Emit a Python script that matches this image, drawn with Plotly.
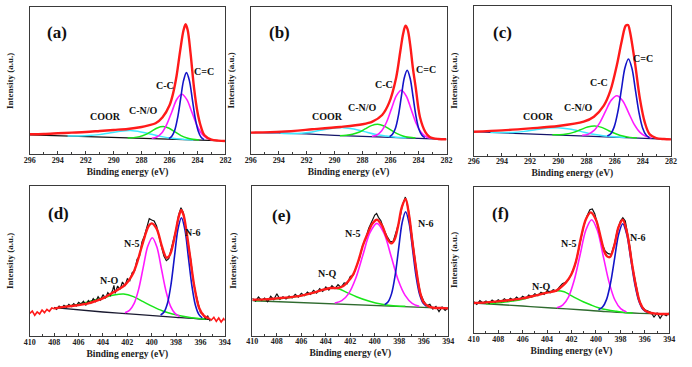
import plotly.graph_objects as go

FONT = "Liberation Serif"

# ---------------- tick values ----------------
c1s_ticks = [296, 294, 292, 290, 288, 286, 284, 282]
c1s_minor = [295, 293, 291, 289, 287, 285, 283]
n1s_ticks = [410, 408, 406, 404, 402, 400, 398, 396, 394]
n1s_minor = [409, 407, 405, 403, 401, 399, 397, 395]

# ---------------- panel (a)  C 1s ----------------
a_base_E = [296, 282]
a_base_I = [58, 40]
a_coor_E = [284.3, 285.05, 285.8, 286.55, 287.3, 288.05, 288.8, 289.55, 290.3, 291.05, 291.8, 292.55, 293.3]
a_coor_I = [43, 45, 48, 53, 60, 67, 71, 69, 64, 59, 56, 55, 55]
a_cno_E = [283.9, 284.33, 284.75, 285.18, 285.6, 286.03, 286.45, 286.88, 287.3, 287.73, 288.15, 288.58, 289.0]
a_cno_I = [43, 45, 49, 56, 67, 78, 83, 79, 69, 59, 53, 50, 49]
a_cc_E = [282.96, 283.32, 283.68, 284.04, 284.4, 284.76, 285.12, 285.48, 285.84, 286.2, 286.56, 286.92, 287.28]
a_cc_I = [43, 48, 61, 87, 126, 164, 180, 165, 127, 90, 64, 52, 48]
a_c2_E = [283.53, 283.74, 283.95, 284.16, 284.37, 284.58, 284.79, 285.0, 285.21, 285.42, 285.63, 285.84, 286.05]
a_c2_I = [44, 51, 70, 108, 165, 221, 245, 221, 166, 110, 72, 54, 47]
a_fit_E = [296, 295, 294, 293, 292, 291, 290, 289, 288, 287.5, 287, 286.5, 286, 285.75, 285.5,
           285.25, 285, 284.85, 284.7, 284.5, 284.25, 284, 283.75, 283.5, 283, 282.5, 282]
a_fit_I = [60, 61, 63, 65, 67, 70, 73, 76, 82, 87, 93, 111, 147, 182, 235,
           308, 372, 390, 372, 304, 200, 126, 82, 57, 44, 41, 40]

# ---------------- panel (b)  C 1s ----------------
b_base_E = [296, 294, 292, 290, 288, 286, 284, 282]
b_base_I = [65, 64, 61, 57, 54, 51, 48, 45]
b_coor_E = [284.87, 285.62, 286.37, 287.12, 287.87, 288.62, 289.37, 290.12, 290.87, 291.62, 292.37, 293.12, 293.87]
b_coor_I = [50, 51, 55, 60, 68, 76, 80, 78, 73, 67, 63, 62, 63]
b_cno_E = [284.22, 284.67, 285.12, 285.57, 286.02, 286.47, 286.92, 287.37, 287.82, 288.27, 288.72, 289.17, 289.62]
b_cno_I = [49, 51, 55, 63, 74, 85, 90, 86, 76, 66, 60, 57, 56]
b_cc_E = [283.13, 283.48, 283.83, 284.18, 284.53, 284.88, 285.23, 285.58, 285.93, 286.28, 286.63, 286.98, 287.33]
b_cc_I = [48, 53, 67, 94, 135, 175, 192, 176, 137, 97, 71, 58, 54]
b_c2_E = [283.55, 283.76, 283.97, 284.18, 284.39, 284.6, 284.81, 285.02, 285.23, 285.44, 285.65, 285.86, 286.07]
b_c2_I = [50, 57, 75, 114, 172, 228, 252, 229, 173, 116, 78, 60, 53]
b_fit_E = [296, 293.8, 291.6, 289.6, 288, 287.3, 286.6, 286.1, 285.6, 285.3, 285.1, 284.93, 284.78,
           284.6, 284.4, 284.2, 283.9, 283.5, 283.2, 282.6, 282]
b_fit_I = [65, 68, 75, 82, 90, 98, 118, 155, 230, 310, 362, 386, 375,
           330, 258, 200, 112, 66, 52, 46, 45]

# ---------------- panel (c)  C 1s ----------------
c_base_E = [296, 282]
c_base_I = [72, 49]
c_coor_E = [285.22, 286.02, 286.82, 287.62, 288.42, 289.22, 290.02, 290.82, 291.62, 292.42, 293.22, 294.02, 294.82]
c_coor_I = [55, 57, 60, 65, 73, 80, 84, 83, 78, 73, 70, 70, 70]
c_cno_E = [284.42, 284.92, 285.42, 285.92, 286.42, 286.92, 287.42, 287.92, 288.42, 288.92, 289.42, 289.92, 290.42]
c_cno_I = [53, 55, 59, 66, 75, 85, 89, 86, 78, 70, 65, 63, 63]
c_cc_E = [283.38, 283.79, 284.2, 284.61, 285.02, 285.43, 285.84, 286.25, 286.66, 287.07, 287.48, 287.89, 288.3]
c_cc_I = [53, 58, 70, 94, 130, 165, 180, 166, 132, 98, 75, 64, 61]
c_c2_E = [283.52, 283.77, 284.02, 284.27, 284.52, 284.77, 285.02, 285.27, 285.52, 285.77, 286.02, 286.27, 286.52]
c_c2_I = [54, 62, 84, 129, 196, 262, 290, 263, 198, 132, 88, 66, 59]
c_fit_E = [296, 294, 292, 290, 288.2, 287.47, 286.77, 286.3, 285.84, 285.49, 285.21, 285.05, 284.91,
           284.56, 284.21, 283.86, 283.51, 283.05, 282.5, 282]
c_fit_I = [72, 76, 82, 89, 102, 117, 150, 195, 272, 345, 390, 392, 372,
           280, 172, 100, 64, 53, 50, 49]

# ---------------- panel (d)  N 1s ----------------
d_base_E = [408, 404, 401, 398, 396, 395.3]
d_base_I = [85, 72, 64, 56, 51, 50]
d_nq_E = [407.5, 406.5, 405.5, 404.7, 403.9, 403.1, 402.3, 401.5, 400.7, 399.9, 399.1, 398.3, 397.2, 396.3, 395.5]
d_nq_I = [85, 92, 100, 108, 115, 123, 126, 118, 103, 88, 75, 66, 58, 53, 50]
d_n5_E = [397.7, 398.075, 398.45, 398.825, 399.2, 399.575, 399.95, 400.325, 400.7, 401.075, 401.45, 401.825, 402.2]
d_n5_I = [58, 67, 89, 134, 201, 267, 295, 269, 205, 140, 97, 77, 70]
d_n6_E = [395.85, 396.135, 396.42, 396.705, 396.99, 397.275, 397.56, 397.845, 398.13, 398.415, 398.7, 398.985, 399.27]
d_n6_I = [54, 65, 93, 151, 236, 319, 355, 321, 239, 155, 99, 72, 63]
d_fitL_E = [410.0, 409.8, 409.6, 409.4, 409.2, 409.0, 408.8, 408.6, 408.4, 408.2, 408.0]
d_fitL_I = [68, 75, 62, 72, 66, 78, 70, 80, 74, 84, 82]
d_fit_E = [408.0, 407.5, 406.6, 405.2, 404.5, 403.9, 403.1, 402.3, 401.9, 401.5, 401.2, 400.96, 400.56,
           400.25, 400.0, 399.6, 399.19, 398.95, 398.79, 398.6, 398.39, 398.04, 397.8, 397.58, 397.38,
           397.18, 396.85, 396.5, 396.1, 395.7, 395.3]
d_fit_I = [82, 86, 90, 98, 106, 115, 132, 150, 166, 190, 220, 250, 300,
           330, 338, 322, 272, 245, 235, 238, 255, 312, 355, 378, 362,
           322, 238, 148, 83, 60, 53]
d_fitR_E = [395.3, 395.1, 394.9, 394.7, 394.5, 394.3, 394.1, 394.0]
d_fitR_I = [53, 48, 56, 44, 54, 42, 52, 47]
d_raw_E = [408.0, 407.8, 407.6, 407.4, 407.2, 407.0, 406.8, 406.6, 406.4, 406.2, 406.0, 405.8, 405.6,
           405.4, 405.2, 405.0, 404.8, 404.6, 404.4, 404.2, 404.0, 403.8, 403.6, 403.4, 403.2, 403.1,
           403.0, 402.8, 402.6, 402.4, 402.2, 402.0, 401.8, 401.6, 401.4, 401.2, 401.0, 400.8, 400.6,
           400.4, 400.2, 400.0, 399.8, 399.6, 399.4, 399.2, 399.0, 398.8, 398.6, 398.4, 398.2, 398.0,
           397.8, 397.6, 397.4, 397.2, 397.0, 396.8, 396.6, 396.4, 396.2, 396.0, 395.8, 395.6, 395.4, 395.2]
d_raw_I = [86, 80, 90, 84, 92, 86, 95, 88, 97, 90, 101, 96, 104,
           92, 106, 98, 112, 103, 118, 108, 124, 113, 130, 121, 138, 152,
           128, 150, 140, 162, 150, 172, 166, 190, 196, 230, 240, 282, 300,
           330, 352, 348, 345, 330, 296, 268, 240, 226, 232, 262, 290, 320,
           362, 385, 370, 328, 276, 230, 168, 130, 96, 70, 66, 52, 60, 44]

# ---------------- panel (e)  N 1s ----------------
e_base_E = [410, 394]
e_base_I = [105, 82]
e_nq_E = [409.8, 409, 408, 407, 406.3, 405, 404.2, 403.5, 402.9, 402.3, 401.5, 400.5, 399.4, 398.3, 397.5]
e_nq_I = [105, 108, 111, 114, 118, 129, 138, 143, 140, 130, 117, 104, 94, 89, 88]
e_n5_E = [396.37, 396.945, 397.52, 398.095, 398.67, 399.245, 399.82, 400.395, 400.97, 401.545, 402.12, 402.695, 403.27]
e_n5_I = [88, 97, 121, 168, 239, 308, 337, 309, 242, 173, 127, 105, 98]
e_n6_E = [395.77, 396.055, 396.34, 396.625, 396.91, 397.195, 397.48, 397.765, 398.05, 398.335, 398.62, 398.905, 399.19]
e_n6_I = [88, 98, 124, 178, 259, 338, 372, 339, 261, 181, 127, 102, 93]
e_fit_E = [410, 409, 408, 407, 406, 405, 404.2, 403.6, 403.0, 402.57, 402.2, 401.76, 401.36, 400.96,
           400.6, 400.2, 399.82, 399.4, 399.0, 398.68, 398.4, 398.1, 397.8, 397.48, 397.2, 396.9,
           396.6, 396.3, 396.0, 395.6, 395.2, 394.6, 394]
e_fit_I = [108, 109, 112, 115, 120, 129, 138, 143, 143, 149, 162, 184, 222, 272,
           305, 336, 348, 330, 293, 277, 287, 328, 384, 410, 362, 275,
           195, 130, 100, 88, 84, 83, 82]
e_raw_E = [410.0, 409.75, 409.5, 409.25, 409.0, 408.75, 408.5, 408.25, 408.0, 407.75, 407.5, 407.25,
           407.0, 406.75, 406.5, 406.25, 406.0, 405.75, 405.5, 405.25, 405.0, 404.75, 404.5, 404.25,
           404.0, 403.75, 403.5, 403.25, 403.0, 402.75, 402.5, 402.25, 402.0, 401.75, 401.5, 401.25,
           401.0, 400.75, 400.5, 400.25, 400.0, 399.85, 399.7, 399.5, 399.25, 399.0, 398.75, 398.5,
           398.25, 398.0, 397.75, 397.5, 397.25, 397.0, 396.75, 396.5, 396.25, 396.0, 395.75, 395.5,
           395.25, 395.0, 394.75, 394.5, 394.25, 394.0]
e_raw_I = [112, 104, 116, 106, 113, 102, 118, 108, 126, 109, 117, 110,
           119, 113, 124, 116, 127, 120, 131, 124, 136, 128, 141, 133,
           146, 137, 150, 141, 153, 145, 158, 156, 178, 182, 208, 232,
           270, 290, 322, 340, 362, 367, 355, 345, 318, 298, 283, 282,
           312, 342, 390, 416, 378, 305, 235, 172, 124, 104, 90, 94,
           80, 88, 72, 86, 76, 84]

# ---------------- panel (f)  N 1s ----------------
f_base_E = [410, 406, 403.6, 401, 399.2, 397, 395.5, 394]
f_base_I = [90, 81, 75, 69, 64, 60, 58, 57]
f_nq_E = [409, 408, 407, 406, 405, 404, 403.2, 402.6, 402.2, 401.6, 401, 400.4, 399.8, 399, 398.3, 397.6, 397]
f_nq_I = [88, 91, 95, 101, 112, 122, 127, 124, 116, 104, 93, 84, 76, 69, 65, 61, 60]
f_n5_E = [397.5, 397.975, 398.45, 398.925, 399.4, 399.875, 400.35, 400.825, 401.3, 401.775, 402.25, 402.725, 403.2]
f_n5_I = [63, 73, 99, 152, 230, 307, 340, 309, 234, 159, 108, 84, 76]
f_n6_E = [395.83, 396.16, 396.49, 396.82, 397.15, 397.48, 397.81, 398.14, 398.47, 398.8, 399.13, 399.46, 399.79]
f_n6_I = [62, 71, 96, 147, 222, 296, 328, 297, 225, 151, 101, 78, 70]
f_fit_E = [410, 409, 408, 407, 406, 405, 404, 403.25, 402.85, 402.45, 402.04, 401.64, 401.24, 400.84,
           400.43, 400.0, 399.6, 399.3, 399.09, 398.85, 398.5, 398.15, 397.81, 397.45, 397.08, 396.75,
           396.4, 396.0, 395.5, 395.0, 394.5, 394]
f_fit_I = [90, 92, 95, 99, 104, 112, 121, 127, 138, 152, 174, 214, 284, 340,
           362, 340, 285, 243, 230, 228, 262, 318, 340, 300, 215, 145,
           92, 68, 60, 58, 57, 57]
f_raw_E = [410.0, 409.75, 409.5, 409.25, 409.0, 408.75, 408.5, 408.25, 408.0, 407.75, 407.5, 407.25,
           407.0, 406.75, 406.5, 406.25, 406.0, 405.75, 405.5, 405.25, 405.0, 404.75, 404.5, 404.25,
           404.0, 403.75, 403.5, 403.25, 403.0, 402.75, 402.5, 402.25, 402.0, 401.75, 401.5, 401.25,
           401.0, 400.75, 400.5, 400.3, 400.1, 399.9, 399.7, 399.5, 399.25, 399.0, 398.75, 398.5,
           398.25, 398.0, 397.8, 397.6, 397.4, 397.2, 397.0, 396.75, 396.5, 396.25, 396.0, 395.75,
           395.5, 395.25, 395.0, 394.75, 394.5, 394.25, 394.0]
f_raw_I = [94, 86, 97, 90, 96, 89, 99, 92, 100, 94, 103, 96,
           104, 98, 108, 101, 110, 104, 114, 108, 118, 112, 122, 116,
           126, 121, 130, 126, 138, 148, 152, 160, 178, 200, 236, 280,
           322, 350, 370, 372, 358, 330, 300, 268, 246, 238, 236, 266,
           308, 336, 346, 336, 296, 254, 198, 148, 104, 80, 70, 66,
           62, 48, 60, 44, 58, 52, 60]

# ---------------- styling ----------------
RED = "#ff1a1a"
BLUE = "#1414c8"
MAG = "#ff1aff"
GREEN = "#19e619"
CYAN = "#3ee8ff"
RAW = "#111111"
AXC = "#3a3a3a"

fig = go.Figure()


def ax(i):
    return ("x" if i == 1 else f"x{i}"), ("y" if i == 1 else f"y{i}")


def add(i, E, I, color, width, shape="spline"):
    xa, ya = ax(i)
    fig.add_trace(go.Scatter(x=E, y=I, mode="lines", xaxis=xa, yaxis=ya,
                             line=dict(color=color, width=width, shape=shape, smoothing=0.9),
                             hoverinfo="skip", showlegend=False))


# top row
for i, (bE, bI, bc, coE, coI, cnE, cnI, ccE, ccI, c2E, c2I, fE, fI) in enumerate([
    (a_base_E, a_base_I, "#111111", a_coor_E, a_coor_I, a_cno_E, a_cno_I, a_cc_E, a_cc_I, a_c2_E, a_c2_I, a_fit_E, a_fit_I),
    (b_base_E, b_base_I, "#15156a", b_coor_E, b_coor_I, b_cno_E, b_cno_I, b_cc_E, b_cc_I, b_c2_E, b_c2_I, b_fit_E, b_fit_I),
    (c_base_E, c_base_I, "#15156a", c_coor_E, c_coor_I, c_cno_E, c_cno_I, c_cc_E, c_cc_I, c_c2_E, c_c2_I, c_fit_E, c_fit_I),
], start=1):
    add(i, bE, bI, bc, 1.3, "linear" if len(bE) == 2 else "spline")
    add(i, coE, coI, CYAN, 1.5)
    add(i, cnE, cnI, GREEN, 1.5)
    add(i, ccE, ccI, MAG, 1.6)
    add(i, c2E, c2I, BLUE, 1.6)
    add(i, fE, fI, RED, 2.4)

# bottom row
bottom = [
    (d_base_E, d_base_I, "#1a1a30", d_nq_E, d_nq_I, d_n5_E, d_n5_I, d_n6_E, d_n6_I, d_raw_E, d_raw_I),
    (e_base_E, e_base_I, "#2f6b2f", e_nq_E, e_nq_I, e_n5_E, e_n5_I, e_n6_E, e_n6_I, e_raw_E, e_raw_I),
    (f_base_E, f_base_I, "#2f6b2f", f_nq_E, f_nq_I, f_n5_E, f_n5_I, f_n6_E, f_n6_I, f_raw_E, f_raw_I),
]
for i, (bE, bI, bc, qE, qI, n5E, n5I, n6E, n6I, rE, rI) in enumerate(bottom, start=4):
    add(i, bE, bI, bc, 1.3, "linear" if len(bE) == 2 else "spline")
    add(i, qE, qI, GREEN, 1.5)
    add(i, n5E, n5I, MAG, 1.6)
    add(i, n6E, n6I, BLUE, 1.6)
    add(i, rE, rI, RAW, 1.2, "linear")
    if i == 4:
        add(i, d_fitL_E, d_fitL_I, RED, 1.6, "linear")
        add(i, d_fit_E, d_fit_I, RED, 2.4)
        add(i, d_fitR_E, d_fitR_I, RED, 1.6, "linear")
    elif i == 5:
        add(i, e_fit_E, e_fit_I, RED, 2.4)
    else:
        add(i, f_fit_E, f_fit_I, RED, 2.4)

# axes layout
domains = {
    1: ([0.0351, 0.3227], [0.5796, 0.9801]),
    2: ([0.3598, 0.6478], [0.5796, 0.9818]),
    3: ([0.6879, 0.9779], [0.5757, 0.9845]),
    4: ([0.0351, 0.3218], [0.0845, 0.4940]),
    5: ([0.3623, 0.6503], [0.0853, 0.4940]),
    6: ([0.6879, 0.9754], [0.0926, 0.4913]),
}
yranges = {1: 441, 2: 443, 3: 450, 4: 451, 5: 450, 6: 439}

layout = dict(width=692, height=367, margin=dict(l=0, r=0, t=0, b=0),
              paper_bgcolor="white", plot_bgcolor="white", showlegend=False)

for i in range(1, 7):
    xa, ya = ax(i)
    xk = "xaxis" if i == 1 else f"xaxis{i}"
    yk = "yaxis" if i == 1 else f"yaxis{i}"
    top = i <= 3
    ticks = c1s_ticks if top else n1s_ticks
    minor = c1s_minor if top else n1s_minor
    layout[xk] = dict(
        domain=domains[i][0], anchor=ya,
        range=[ticks[0], ticks[-1]],
        tickmode="array", tickvals=ticks, ticktext=[str(t) for t in ticks],
        ticks="inside", ticklen=3, tickcolor=AXC, tickwidth=1,
        minor=dict(tickmode="array", tickvals=minor, ticks="inside", ticklen=2, tickcolor=AXC),
        tickfont=dict(family=FONT, size=8, color="#222", weight="bold"),
        ticklabelstandoff=-2,
        showline=True, mirror=True, linecolor=AXC, linewidth=1,
        showgrid=False, zeroline=False,
        title=dict(text="Binding energy (eV)", standoff=4,
                   font=dict(family=FONT, size=9.5, color="#222", weight="bold")),
    )
    layout[yk] = dict(
        domain=domains[i][1], anchor=xa, range=[0, yranges[i]],
        showticklabels=False, ticks="", showgrid=False, zeroline=False,
        showline=True, mirror=True, linecolor=AXC, linewidth=1,
        title=dict(text="Intensity (a.u.)", standoff=13,
                   font=dict(family=FONT, size=9, color="#222", weight="bold")),
    )

fig.update_layout(**layout)

# annotations
ann = []


def lab(i, x, y, text, size=10):
    xa, ya = ax(i)
    ann.append(dict(x=x, y=y, xref=xa, yref=ya, text=text, showarrow=False,
                    font=dict(family=FONT, size=size, color="#111", weight="bold")))


lab(1, 294.05, 364, "(a)", 17)
lab(2, 293.96, 364, "(b)", 17)
lab(3, 293.98, 371, "(c)", 17)
lab(4, 407.69, 369, "(d)", 17)
lab(5, 407.65, 362, "(e)", 17)
lab(6, 407.83, 360, "(f)", 17)

lab(1, 283.5, 247, "C=C"); lab(1, 286.31, 205, "C-C"); lab(1, 287.86, 130, "C-N/O"); lab(1, 290.6, 112, "COOR")
lab(2, 283.5, 253, "C=C"); lab(2, 286.45, 208, "C-C"); lab(2, 287.99, 139, "C-N/O"); lab(2, 290.52, 112, "COOR")
lab(3, 284.0, 293, "C=C"); lab(3, 287.14, 221, "C-C"); lab(3, 288.6, 146, "C-N/O"); lab(3, 291.4, 119, "COOR")
lab(4, 401.64, 279, "N-5"); lab(4, 396.64, 312, "N-6"); lab(4, 403.49, 168, "N-O")
lab(5, 401.79, 308, "N-5"); lab(5, 395.85, 338, "N-6"); lab(5, 403.88, 188, "N-Q")
lab(6, 402.2, 270, "N-5"); lab(6, 396.58, 288, "N-6"); lab(6, 404.45, 141, "N-Q")

fig.update_layout(annotations=ann)
fig.write_html("out.html", config={"displayModeBar": False},
               post_script="document.body.style.margin='0';")
